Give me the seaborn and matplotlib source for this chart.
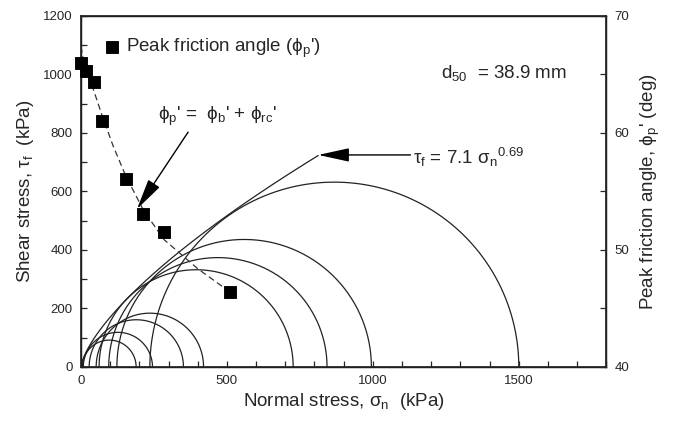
import numpy as np
import pandas as pd
import matplotlib
matplotlib.use('Agg')
import matplotlib.pyplot as plt
import seaborn as sns

# Mohr circles: minor / major principal stress (kPa)
sigma3 = [5, 8, 28, 52, 62, 95, 123, 236]
sigma1 = [189, 245, 351, 420, 727, 843, 995, 1500]

# failure envelope tau_f = 7.1 * sigma_n^0.69, drawn up to the arrow tip
env_a = 7.1
env_b = 0.69
env_max = 813

# peak friction angle points (normal stress kPa, angle deg)
phi_sigma = [0, 17, 44, 71, 154, 214, 284, 511]
phi_angle = [66.0, 65.3, 64.4, 61.0, 56.1, 53.1, 51.5, 46.4]

# dashed trend line through the friction angle points
trend_sigma = [0, 8, 20, 44, 71, 110, 154, 214, 284, 400, 511]
trend_angle = [67.4, 66.3, 65.2, 63.6, 61.6, 58.9, 56.3, 53.4, 50.9, 48.4, 46.4]

sns.set_theme(style='ticks')
plt.rcParams['font.family'] = ['Liberation Sans', 'DejaVu Sans']
plt.rcParams['mathtext.fontset'] = 'custom'
plt.rcParams['mathtext.rm'] = 'Liberation Sans'
plt.rcParams['mathtext.it'] = 'Liberation Sans:italic'
plt.rcParams['xtick.direction'] = 'in'
plt.rcParams['ytick.direction'] = 'in'

fig = plt.figure(figsize=(6.76, 4.21), dpi=100)
ax = fig.add_axes([0.1198, 0.1283, 0.7772, 0.8337])

# build semicircle outlines
rows = []
theta = np.linspace(0, np.pi, 200)
for i, (s3, s1) in enumerate(zip(sigma3, sigma1)):
    c = (s1 + s3) / 2
    r = (s1 - s3) / 2
    for t in theta:
        rows.append({'circle': i, 'sigma': c + r * np.cos(t), 'tau': r * np.sin(t)})
circles = pd.DataFrame(rows)

sns.lineplot(data=circles, x='sigma', y='tau', units='circle', estimator=None,
             sort=False, color='#222222', lw=0.9, ax=ax)

env = pd.DataFrame({'sigma': np.linspace(0, env_max, 300)})
env['tau'] = env_a * env['sigma'] ** env_b
sns.lineplot(data=env, x='sigma', y='tau', color='#222222', lw=0.9, ax=ax)

ax.set_xlim(0, 1800)
ax.set_ylim(0, 1200)
ax.set_xticks(range(0, 1801, 100))
ax.set_xticklabels([str(v) if v % 500 == 0 else '' for v in range(0, 1801, 100)])
ax.set_yticks(range(0, 1201, 100))
ax.set_yticklabels([str(v) if v % 200 == 0 else '' for v in range(0, 1201, 100)])
ax.tick_params(axis='both', length=4, width=0.9, labelsize=9.5, pad=6, top=False, right=False)
ax.set_xlabel('Normal stress, σ$_\\mathregular{n}$  (kPa)', fontsize=13.5, labelpad=3)
ax.set_ylabel('Shear stress, τ$_\\mathregular{f}$  (kPa)', fontsize=13.5, labelpad=5)
for sp in ax.spines.values():
    sp.set_linewidth(1.0)
    sp.set_color('black')

ax2 = ax.twinx()
pts = pd.DataFrame({'sigma': phi_sigma, 'angle': phi_angle})
trend = pd.DataFrame({'sigma': trend_sigma, 'angle': trend_angle})
sns.lineplot(data=trend, x='sigma', y='angle', color='#333333', lw=0.9,
             dashes=False, ax=ax2, linestyle=(0, (5, 3)))
sns.scatterplot(data=pts, x='sigma', y='angle', marker='s', s=64, color='black',
                edgecolor='black', ax=ax2, label="Peak friction angle (ϕ$_\\mathregular{p}$')",
                zorder=5, clip_on=False)
ax2.set_ylim(40, 70)
ax2.set_yticks(range(40, 71, 5))
ax2.set_yticklabels([str(v) if v % 10 == 0 else '' for v in range(40, 71, 5)])
ax2.tick_params(axis='y', length=4, width=0.9, labelsize=9.5, pad=6)
ax2.set_ylabel("Peak friction angle, ϕ$_\\mathregular{p}$' (deg)", fontsize=13.5, labelpad=7)
ax2.set_xlim(0, 1800)
ax2.legend(loc='upper left', bbox_to_anchor=(0.01, 0.99), frameon=False,
           fontsize=13.5, handletextpad=0.2, markerscale=1.0, handlelength=1.0)

arrow = dict(arrowstyle='-|>,head_length=1.6,head_width=0.35', color='black', lw=1.0,
             shrinkA=0, shrinkB=0)
ax.annotate('', xy=(813, 725), xytext=(1129, 725), arrowprops=arrow)
ax.annotate('', xy=(192, 540), xytext=(367, 803), arrowprops=arrow)

ax.text(1139, 718, 'τ$_\\mathregular{f}$ = 7.1 σ$_\\mathregular{n}$$^\\mathregular{0.69}$',
        fontsize=13.5, va='center', ha='left')
ax.text(264, 858, "ϕ$_\\mathregular{p}$' =  ϕ$_\\mathregular{b}$' + ϕ$_\\mathregular{rc}$'",
        fontsize=13.5, va='center', ha='left')
ax.text(1232, 1005, 'd$_\\mathregular{50}$  = 38.9 mm', fontsize=13.5, va='center', ha='left')

fig.savefig('out.png', dpi=100)
